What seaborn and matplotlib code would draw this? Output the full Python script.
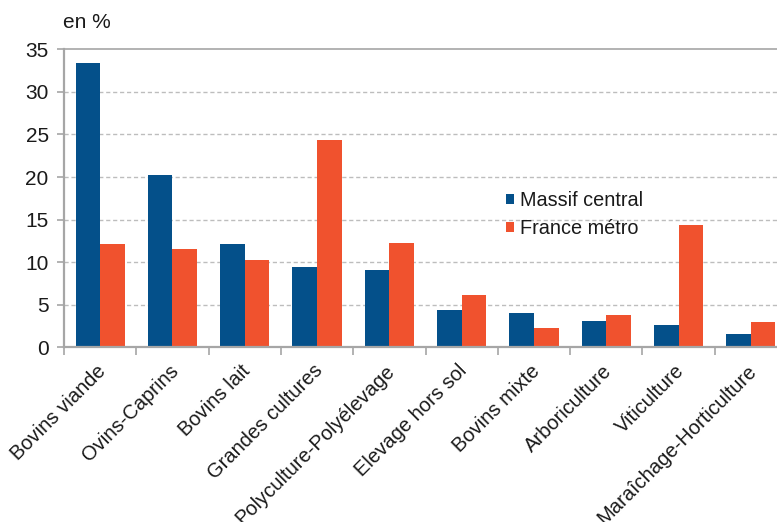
import matplotlib
matplotlib.use("Agg")
import matplotlib.pyplot as plt
import matplotlib.transforms as mtransforms
import seaborn as sns
import pandas as pd
import numpy as np

categories = ["Bovins viande", "Ovins-Caprins", "Bovins lait", "Grandes cultures",
              "Polyculture-Polyélevage", "Elevage hors sol", "Bovins mixte",
              "Arboriculture", "Viticulture", "Maraîchage-Horticulture"]
massif_central = [33.4, 20.2, 12.1, 9.4, 9.1, 4.4, 4.0, 3.1, 2.6, 1.6]
france_metro = [12.1, 11.6, 10.2, 24.3, 12.2, 6.1, 2.3, 3.8, 14.4, 3.0]
series_names = ["Massif central", "France métro"]
yticks = [0, 5, 10, 15, 20, 25, 30, 35]

df = pd.DataFrame({
    "cat": categories * 2,
    "val": massif_central + france_metro,
    "serie": [series_names[0]] * len(categories) + [series_names[1]] * len(categories),
})

sns.set_theme(style="white")
plt.rcParams["font.family"] = ["Liberation Sans", "DejaVu Sans"]

fig = plt.figure(figsize=(7.77, 5.22), dpi=100)
ax = fig.add_axes([64 / 777, (522 - 347.3) / 522, (787 - 64) / 777, (347.3 - 49.3) / 522])

palette = {"Massif central": "#04508A", "France métro": "#F0522E"}
sns.barplot(data=df, x="cat", y="val", hue="serie", order=categories,
            hue_order=series_names, palette=palette, width=0.68, gap=0,
            saturation=1, linewidth=0, ax=ax, legend=True)

ax.set_ylim(0, 35)
ax.set_xlim(-0.5, len(categories) - 0.5)
ax.set_yticks(yticks)
ax.set_yticklabels([str(t) for t in yticks], fontsize=15, color="#1a1a1a")
ax.set_xlabel("")
ax.set_ylabel("")

# gridlines
for t in yticks[1:-1]:
    ax.axhline(t, color="#BDBDBD", lw=1.0, ls=(0, (3, 2)), zorder=0)
ax.set_axisbelow(True)

for s in ["left", "bottom", "top"]:
    ax.spines[s].set_visible(True)
    ax.spines[s].set_color("#A6A6A6")
ax.spines["left"].set_linewidth(1.6)
ax.spines["bottom"].set_linewidth(1.6)
ax.spines["top"].set_linewidth(1.2)
ax.spines["right"].set_visible(False)

ax.tick_params(axis="y", which="major", left=True, length=5, width=1.2,
               color="#A6A6A6", pad=6)
ax.set_xticks(range(len(categories)))
ax.set_xticks(np.arange(-0.5, len(categories), 1.0), minor=True)
ax.tick_params(axis="x", which="major", bottom=False, length=0, pad=10)
ax.tick_params(axis="x", which="minor", bottom=True, length=6, width=1.2,
               color="#A6A6A6")
ax.set_xticklabels(categories, rotation=45, ha="right", va="top",
                   rotation_mode="anchor", fontsize=14.5, color="#1a1a1a")
offset = mtransforms.ScaledTranslation(-4 / 100, 0, fig.dpi_scale_trans)
for lab in ax.get_xticklabels():
    lab.set_transform(lab.get_transform() + offset)

leg = ax.legend(loc="upper left", bbox_to_anchor=(506 / 777, 1 - 191 / 522),
                bbox_transform=fig.transFigure, frameon=False, fontsize=14.3,
                handlelength=0.38, handleheight=0.38, handletextpad=0.35,
                labelspacing=0.45, borderpad=0, borderaxespad=0)
for txt in leg.get_texts():
    txt.set_color("#1a1a1a")

fig.text(63 / 777, 1 - 22 / 522, "en %", fontsize=15, ha="left", va="center",
         color="#1a1a1a")

fig.savefig("out.png", dpi=100)
